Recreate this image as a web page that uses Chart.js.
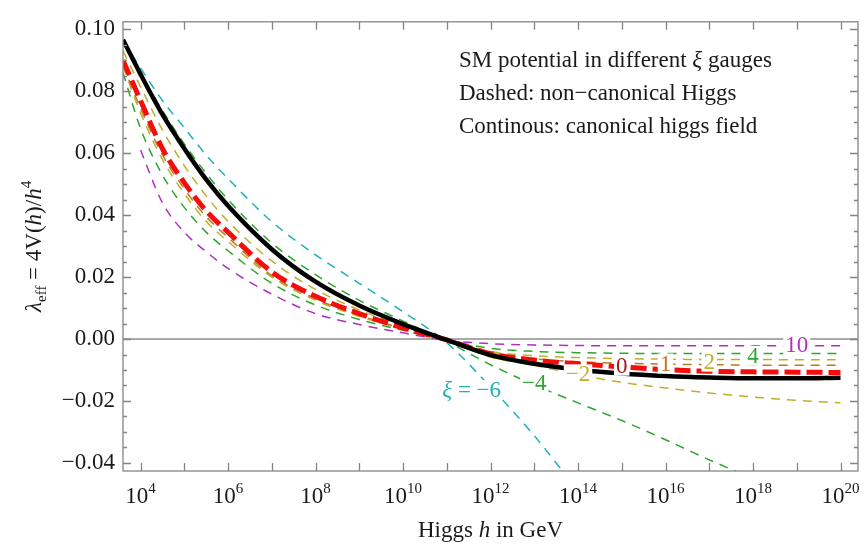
<!DOCTYPE html>
<html>
<head>
<meta charset="utf-8">
<script src="https://cdn.jsdelivr.net/npm/chart.js@4.4.0/dist/chart.umd.min.js"></script>
<style>
  html, body { margin: 0; padding: 0; background: #fff; }
  #wrap { width: 864px; height: 548px; }
</style>
</head>
<body>
<div id="wrap"><canvas id="chart" width="864" height="548"></canvas></div>
<script>
// log10 of the Higgs field h (GeV) where the curves were read
const logH = [3.6, 4, 4.5, 5, 5.5, 6, 7, 8, 9, 10, 11, 12, 13, 14, 15, 16, 17, 18, 19, 20];

// lambda_eff = 4V(h)/h^4 (null = outside the plot)
const canonical = [0.0966, 0.0855, 0.0725, 0.0615, 0.0515, 0.0430, 0.0290, 0.0185, 0.0108, 0.0048, -0.0003, -0.0052, -0.0080, -0.0099, -0.0111, -0.0119, -0.0124, -0.0127, -0.0127, -0.0125];
const xi0   = [0.0900, 0.0770, 0.0615, 0.0505, 0.0414, 0.0345, 0.0217, 0.0138, 0.0082, 0.0036, -0.0003, -0.0047, -0.0068, -0.0080, -0.0090, -0.0099, -0.0104, -0.0106, -0.0107, -0.0108];
const xiM6  = [0.0962, 0.0875, 0.0770, 0.0682, 0.0594, 0.0518, 0.0379, 0.0272, 0.0180, 0.0088, -0.0012, -0.0155, -0.0312, -0.0490, null, null, null, null, null, null];
const xiM4  = [0.0958, 0.0858, 0.0738, 0.0630, 0.0535, 0.0450, 0.0310, 0.0208, 0.0125, 0.0058, -0.0008, -0.0083, -0.0148, -0.0206, -0.0263, -0.0325, -0.0390, -0.0450, null, null];
const xiM2  = [0.0930, 0.0815, 0.0675, 0.0560, 0.0462, 0.0380, 0.0252, 0.0160, 0.0094, 0.0042, -0.0004, -0.0058, -0.0085, -0.0115, -0.0140, -0.0158, -0.0174, -0.0187, -0.0198, -0.0206];
const xi1   = [0.0885, 0.0745, 0.0595, 0.0485, 0.0395, 0.0328, 0.0205, 0.0130, 0.0077, 0.0034, -0.0003, -0.0045, -0.0064, -0.0073, -0.0078, -0.0081, -0.0083, -0.0084, -0.0085, -0.0085];
const xi2   = [0.0880, 0.0730, 0.0580, 0.0470, 0.0380, 0.0315, 0.0200, 0.0125, 0.0073, 0.0032, -0.0003, -0.0040, -0.0054, -0.0060, -0.0063, -0.0065, -0.0066, -0.0066, -0.0067, -0.0067];
const xi4   = [0.0860, 0.0680, 0.0530, 0.0425, 0.0345, 0.0285, 0.0180, 0.0110, 0.0063, 0.0028, -0.0003, -0.0030, -0.0040, -0.0044, -0.0046, -0.0047, -0.0047, -0.0047, -0.0047, -0.0047];
const xi10  = [null, 0.0610, 0.0440, 0.0345, 0.0282, 0.0228, 0.0145, 0.0082, 0.0047, 0.0020, -0.0004, -0.0015, -0.0019, -0.0021, -0.0022, -0.0022, -0.0022, -0.0022, -0.0022, -0.0022];

// tick decades on the x axis, labelled ones, and y tick step
const xDecades = [4, 5, 6, 7, 8, 9, 10, 11, 12, 13, 14, 15, 16, 17, 18, 19, 20];
const xLabelled = [4, 6, 8, 10, 12, 14, 16, 18, 20];
const yStep = 0.02;

// gauge labels sitting on the curves: text, log10 h, value
const curveLabels = [
  ['−6', 11.57, -0.0165, '#1fb1bb', true],
  ['−4', 13.0, -0.0143, '#2fa52f'],
  ['−2', 14.0, -0.0114, '#bdb129'],
  ['0', 15.0, -0.0086, '#a8141a'],
  ['1', 16.0, -0.0079, '#c07626'],
  ['2', 17.0, -0.0073, '#bdb129'],
  ['4', 18.0, -0.0054, '#2fa52f'],
  ['10', 19.0, -0.0019, '#b02fc0']
];

const SERIF = "'Liberation Serif', 'Times New Roman', serif";
const f = (s, it) => (it ? 'italic ' : '') + s + 'px ' + SERIF;

const pts = vals => logH.map((L, i) => vals[i] == null ? null : {x: Math.pow(10, L), y: vals[i]}).filter(Boolean);

function thin(label, vals, color) {
  return {label, data: pts(vals), borderColor: color, borderWidth: 1.5, borderDash: [9, 7],
          pointRadius: 0, fill: false, cubicInterpolationMode: 'monotone'};
}

// draw a row of text pieces: [text, font, dy]
function runs(ctx, parts, x, y, align) {
  let w = 0;
  parts.forEach(p => { ctx.font = p[1]; w += ctx.measureText(p[0]).width; });
  let cx = align === 'center' ? x - w / 2 : x;
  parts.forEach(p => {
    ctx.font = p[1];
    ctx.fillText(p[0], cx, y + (p[2] || 0));
    cx += ctx.measureText(p[0]).width;
  });
  return w;
}

const decorations = {
  id: 'decorations',
  beforeDatasetsDraw(chart) {
    const {ctx, chartArea: a, scales: {y}} = chart;
    const y0 = y.getPixelForValue(0);
    ctx.save();
    ctx.strokeStyle = '#555';
    ctx.lineWidth = 1;
    ctx.beginPath(); ctx.moveTo(a.left, y0); ctx.lineTo(a.right, y0); ctx.stroke();
    ctx.restore();
  },
  afterDatasetsDraw(chart) {
    const {ctx, chartArea: a, scales: {x, y}} = chart;
    ctx.save();

    // labels on the curves, with white boxes that hide the lines below
    ctx.textBaseline = 'middle';
    curveLabels.forEach(([txt, L, v, col, withXi]) => {
      const px = x.getPixelForValue(Math.pow(10, L)), py = y.getPixelForValue(v);
      const parts = withXi ? [['ξ', f(23, true)], [' = ' + txt, f(23)]] : [[txt, f(23)]];
      let w = 0;
      parts.forEach(p => { ctx.font = p[1]; w += ctx.measureText(p[0]).width; });
      ctx.fillStyle = '#fff';
      ctx.fillRect(px - w / 2 - 2, py - 10, w + 4, 20);
      ctx.fillStyle = col;
      runs(ctx, parts, px, py + 1, 'center');
    });

    // frame and inward ticks
    ctx.strokeStyle = '#858585';
    ctx.lineWidth = 1.3;
    ctx.strokeRect(a.left, a.top, a.right - a.left, a.bottom - a.top);
    ctx.beginPath();
    x.ticks.forEach(t => {
      const px = Math.round(x.getPixelForValue(t.value)) + 0.5;
      ctx.moveTo(px, a.bottom); ctx.lineTo(px, a.bottom - 8);
      ctx.moveTo(px, a.top); ctx.lineTo(px, a.top + 8);
    });
    for (let k = -10; k <= 22; k++) {
      const v = k * 0.005;
      if (v < y.min || v > y.max) continue;
      const py = Math.round(y.getPixelForValue(v)) + 0.5;
      const len = k % 4 === 0 ? 8 : 4;
      ctx.moveTo(a.left, py); ctx.lineTo(a.left + len, py);
      ctx.moveTo(a.right, py); ctx.lineTo(a.right - len, py);
    }
    ctx.stroke();

    // x tick labels as powers of ten
    ctx.fillStyle = '#1a1a1a';
    ctx.textBaseline = 'alphabetic';
    xLabelled.forEach(n => {
      const px = x.getPixelForValue(Math.pow(10, n));
      runs(ctx, [['10', f(23)], [String(n), f(15), -10]], px, a.bottom + 32, 'center');
    });

    // axis titles
    runs(ctx, [['Higgs ', f(23)], ['h', f(23, true)], [' in GeV', f(23)]], (a.left + a.right) / 2, 537, 'center');
    ctx.save();
    ctx.translate(41, (a.top + a.bottom) / 2);
    ctx.rotate(-Math.PI / 2);
    runs(ctx, [['λ', f(23, true)], ['eff', f(15), 5], [' = 4V(', f(23)], ['h', f(23, true)],
               [')/', f(23)], ['h', f(23, true)], ['4', f(15), -10]], 0, 0, 'center');
    ctx.restore();

    // note in the upper right
    runs(ctx, [['SM potential in different ', f(23)], ['ξ', f(23, true)], [' gauges', f(23)]], 459, 67, 'left');
    runs(ctx, [['Dashed: non−canonical Higgs', f(23)]], 459, 100, 'left');
    runs(ctx, [['Continous: canonical higgs field', f(23)]], 459, 133, 'left');
    ctx.restore();
  }
};

new Chart(document.getElementById('chart'), {
  type: 'line',
  data: {
    datasets: [
      {label: 'canonical', data: pts(canonical), borderColor: '#000', borderWidth: 4.5,
       pointRadius: 0, fill: false, cubicInterpolationMode: 'monotone'},
      {label: 'ξ = 0', data: pts(xi0), borderColor: '#f40d0d', borderWidth: 5, borderDash: [16, 6],
       pointRadius: 0, fill: false, cubicInterpolationMode: 'monotone'},
      thin('ξ = -6', xiM6, '#1fb1bb'),
      thin('ξ = -4', xiM4, '#2fa52f'),
      thin('ξ = -2', xiM2, '#bdb129'),
      thin('ξ = 1', xi1, '#c07626'),
      thin('ξ = 2', xi2, '#bdb129'),
      thin('ξ = 4', xi4, '#2fa52f'),
      thin('ξ = 10', xi10, '#b02fc0')
    ]
  },
  options: {
    responsive: false,
    animation: false,
    layout: {padding: {left: 0, right: 6, top: 15, bottom: 0}},
    plugins: {legend: {display: false}, tooltip: {enabled: false}},
    scales: {
      x: {
        type: 'logarithmic',
        min: Math.pow(10, 3.6),
        max: Math.pow(10, 20.4),
        afterBuildTicks: s => { s.ticks = xDecades.map(n => ({value: Math.pow(10, n)})); },
        afterFit: s => { s.height = 77; },
        ticks: {display: false},
        grid: {display: false},
        border: {display: false}
      },
      y: {
        type: 'linear',
        min: -0.0426,
        max: 0.1024,
        afterFit: s => { s.width = 123; },
        ticks: {
          stepSize: yStep,
          includeBounds: false,
          padding: 8,
          color: '#1a1a1a',
          font: {family: SERIF, size: 23},
          callback: v => Math.abs(v) < 1e-9 ? '0.00' : v.toFixed(2).replace('-', '−')
        },
        grid: {display: false, drawTicks: false},
        border: {display: false}
      }
    }
  },
  plugins: [decorations]
});
</script>
</body>
</html>
